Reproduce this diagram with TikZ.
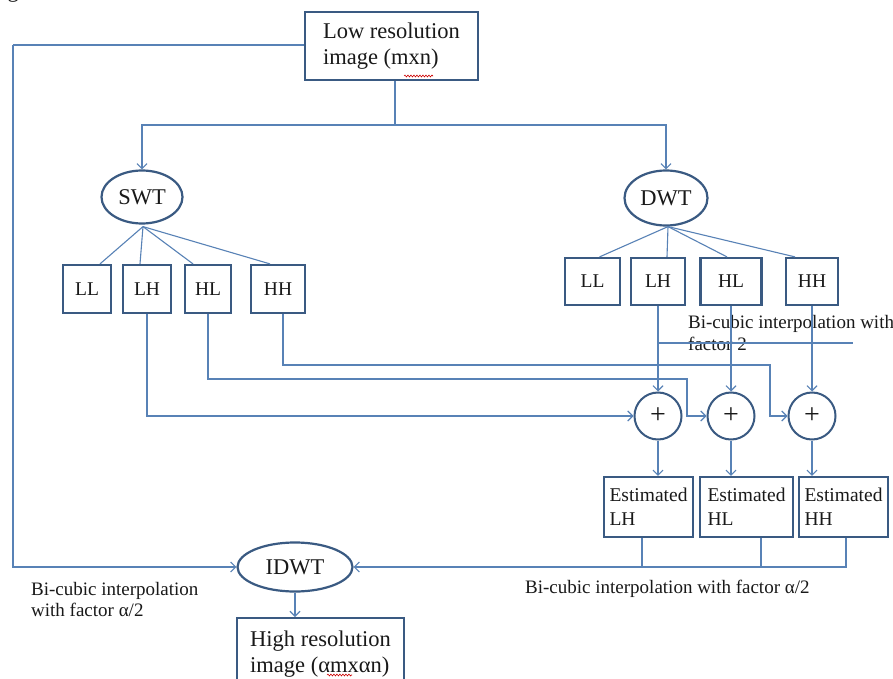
\documentclass[tikz,border=0pt]{standalone}
\usepackage{fontspec}
\setmainfont{Liberation Serif}
\usetikzlibrary{arrows.meta,shapes.geometric,decorations.pathmorphing,calc}
\definecolor{conn}{RGB}{88,130,182}
\definecolor{bord}{RGB}{58,90,130}
\definecolor{txt}{RGB}{25,25,25}
\tikzset{
  big/.style={font=\fontsize{22.5}{26}\selectfont, text=txt},
  small/.style={font=\fontsize{19}{21}\selectfont, text=txt},
  boxnode/.style={draw=bord, line width=2.2pt, inner sep=0pt, big},
  subbox/.style={boxnode, font=\fontsize{19.5}{22}\selectfont},
  estbox/.style={boxnode, font=\fontsize{19.5}{24}\selectfont, minimum height=60pt, align=left},
  ellnode/.style={draw=bord, line width=2.2pt, ellipse, inner sep=0pt, big},
  sumnode/.style={draw=bord, line width=2pt, circle, minimum size=47pt, inner sep=0pt, font=\fontsize{28}{28}\selectfont, text=txt},
  wire/.style={draw=conn, line width=1.1pt},
  arr/.style={wire, -{Straight Barb[length=5pt,width=10pt,line width=1.1pt]}},
  spell/.style={draw=red!80!black, line width=0.6pt, decorate, decoration={snake, amplitude=0.9pt, segment length=3pt}}
}
\begin{document}
\begin{tikzpicture}[x=1pt,y=-1pt]
\useasboundingbox (0,0) rectangle (893,679);
\fill[white] (0,0) rectangle (893,679);
\clip (0,0) rectangle (893,679);

\node[big, anchor=base west] (frag) at (-6,-2) {age.};

% top box
\node[boxnode, minimum width=173pt, minimum height=68pt, align=left] (low) at (391.5,46) {Low resolution\\image (mxn)};
\draw[spell] (404,76) -- (433,76);

% ellipses
\node[ellnode, minimum width=81pt, minimum height=53pt] (swt) at (142,197) {SWT};
\node[ellnode, minimum width=83pt, minimum height=55pt] (dwt) at (666,198) {DWT};

% SWT sub-bands
\node[subbox, minimum width=48pt, minimum height=48pt] (sLL) at (87,289) {LL};
\node[subbox, minimum width=48pt, minimum height=48pt] (sLH) at (147,289) {LH};
\node[subbox, minimum width=46pt, minimum height=48pt] (sHL) at (208,289) {HL};
\node[subbox, minimum width=54pt, minimum height=48pt] (sHH) at (278,289) {HH};

% DWT sub-bands
\node[subbox, minimum width=55pt, minimum height=47pt] (dLL) at (592.5,281.5) {LL};
\node[subbox, minimum width=54pt, minimum height=47pt] (dLH) at (658,281.5) {LH};
\node[subbox, minimum width=61pt, minimum height=47pt] (dHL) at (731,281.5) {HL};
\node[subbox, minimum width=52pt, minimum height=47pt] (dHH) at (812,281.5) {HH};

% adders
\node[sumnode] (c1) at (658,416) {+};
\node[sumnode] (c2) at (731,416) {+};
\node[sumnode] (c3) at (812,416) {+};

% estimated boxes
\node[estbox, minimum width=89pt] (eLH) at (648.5,507) {Estimated\\LH};
\node[estbox, minimum width=93pt] (eHL) at (746.5,507) {Estimated\\HL\phantom{mated}};
\node[estbox, minimum width=89pt] (eHH) at (843.5,507) {Estimated\\HH};

% IDWT and output
\node[ellnode, minimum width=115pt, minimum height=49pt] (idwt) at (295,567) {IDWT};
\node[boxnode, minimum width=167pt, minimum height=72pt, align=left, anchor=north] (high) at (320.5,617) {High resolution\\image (αmxαn)};
\draw[spell] (327,675) -- (352,675);

% labels
\node[small, font=\fontsize{19}{22.5}\selectfont, align=left, anchor=north west, inner sep=0pt] (lab1) at (688,315) {Bi-cubic interpolation with\\factor 2};
\node[small, align=left, anchor=north west, inner sep=0pt] (lab2) at (31,582) {Bi-cubic interpolation\\with factor α/2};
\node[small, anchor=north west, inner sep=0pt] (lab3) at (525,580) {Bi-cubic interpolation with factor α/2};

% coordinates
\coordinate (split) at (395,125);
\coordinate (leftc) at (13,45);
\coordinate (bcend) at (853,343);

% top connections
\draw[wire] (low.south -| split) -- (split);
\draw[arr] (split) -| (swt.north);
\draw[arr] (split) -| (dwt.north);
\draw[wire] (low.west |- leftc) -- (leftc);
\draw[arr] (leftc) |- (idwt.west);

% SWT fan
\coordinate (sfan) at ($(swt.south)+(1,2)$);
\draw[wire] (sfan) -- ($(sLL.north)+(13,0)$);
\draw[wire] (sfan) -- ($(sLH.north)+(-7,0)$);
\draw[wire] (sfan) -- ($(sHL.north)+(-15,0)$);
\draw[wire] (sfan) -- ($(sHH.north)+(-8,0)$);

% DWT fan
\coordinate (dfan) at ($(dwt.south)+(2,0)$);
\draw[wire] (dfan) -- ($(dLL.north)+(7,0)$);
\draw[wire] (dfan) -- ($(dLH.north)+(9,0)$);
\draw[wire] (dfan) -- ($(dHL.north)+(-4,0)$);
\draw[wire] (dfan) -- ($(dHH.north)+(-17,0)$);

% SWT bands to adders
\coordinate (sHHo) at ($(sHH.south)+(5,0)$);
\draw[arr] (sLH.south) |- (c1.west);
\draw[arr] (sHL.south) |- (687,379) |- (c2.west);
\draw[arr] (sHHo) |- (770,365) |- (c3.west);

% DWT bands to adders
\draw[arr] (dLH.south) -- (c1.north);
\draw[arr] (dHL.south) -- (c2.north);
\draw[arr] (dHH.south) -- (c3.north);
\draw[wire] (dLH.south |- bcend) -- (bcend);

% adders to estimates
\draw[arr] (c1.south) -- (c1 |- eLH.north);
\draw[arr] (c2.south) -- (c2 |- eHL.north);
\draw[arr] (c3.south) -- (c3 |- eHH.north);

% estimates to IDWT
\coordinate (ecol) at (846,566);
\coordinate (eLHo) at ($(eLH.south)+(-6.5,0)$);
\coordinate (eHLo) at ($(eHL.south)+(14.5,0)$);
\coordinate (eHHo) at ($(eHH.south)+(2.5,0)$);
\draw[wire] (eLHo) -- (eLHo |- ecol);
\draw[wire] (eHLo) -- (eHLo |- ecol);
\draw[arr] (eHHo) |- (idwt.east);

% output
\draw[arr] (idwt.south) -- (idwt.south |- high.north);
\end{tikzpicture}
\end{document}
